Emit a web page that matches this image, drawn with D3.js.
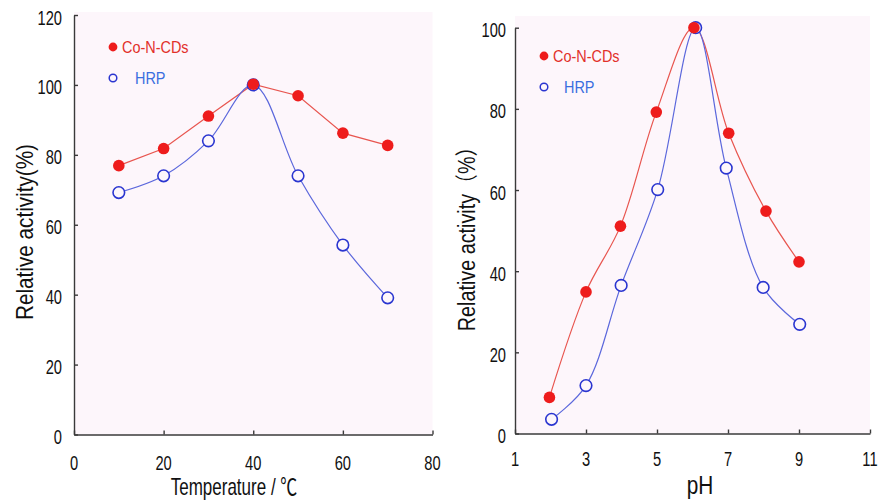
<!DOCTYPE html>
<html>
<head>
<meta charset="utf-8">
<script src="https://cdn.jsdelivr.net/npm/d3@7/dist/d3.min.js"></script>
<style>
  html, body { margin: 0; padding: 0; background: #ffffff; }
  svg { display: block; }
  text { font-family: "Liberation Sans", Arial, "Noto Sans CJK SC", sans-serif; fill: #111; }
</style>
</head>
<body>
<svg id="fig" width="884" height="504"></svg>
<script>
// Temperature panel
const tempC        = [10, 20, 30, 40, 50, 60, 70];
const tempCoNCDs   = [76.9, 81.8, 91.1, 100.2, 96.9, 86.2, 82.7];
const tempHRP      = [69.2, 74.0, 84.0, 100.0, 74.0, 54.2, 39.1];
const tempXTicks   = [0, 20, 40, 60, 80];
const tempYTicks   = [0, 20, 40, 60, 80, 100, 120];

// pH panel
const phCoNCDsX    = [1.97, 3.0, 3.97, 4.98, 6.04, 7.02, 8.07, 9.0];
const phCoNCDs     = [8.9, 34.9, 51.1, 79.2, 100.0, 74.0, 54.8, 42.3];
const phHRPX       = [2.03, 3.0, 3.99, 5.02, 6.09, 6.95, 7.99, 9.02];
const phHRP        = [3.5, 11.8, 36.5, 60.1, 100.0, 65.4, 36.0, 26.9];
const phXTicks     = [1, 3, 5, 7, 9, 11];
const phYTicks     = [0, 20, 40, 60, 80, 100];

const seriesNames  = ["Co-N-CDs", "HRP"];

const RED = "#ee1c1c", RED_LINE = "#e8554f", RED_TEXT = "#e2302a";
const BLUE = "#2a35d0", BLUE_LINE = "#5b67dc", BLUE_TEXT = "#3a6ee0";
const PLOT_BG = "#fdf6fb";
const AXIS = "#3a3a3a";

const svg = d3.select("#fig");

// Text drawn horizontally condensed around its anchor point
function ctext(g, str, x, y, opt) {
  const t = g.append("text")
    .attr("transform", `translate(${x},${y})${opt.rotate ? ` rotate(${opt.rotate})` : ""} scale(${opt.sx || 1},1)`)
    .attr("text-anchor", opt.anchor || "middle")
    .style("font-size", opt.size + "px")
    .text(str);
  if (opt.fill) t.style("fill", opt.fill);
  return t;
}

function panel(cfg) {
  const g = svg.append("g");
  const x = d3.scaleLinear().domain(cfg.xDomain).range([cfg.left, cfg.right]);
  const y = d3.scaleLinear().domain(cfg.yDomain).range([cfg.bottom, cfg.top]);

  // plot area background
  g.append("rect")
    .attr("x", cfg.left).attr("y", cfg.bgTop)
    .attr("width", cfg.right - cfg.left).attr("height", cfg.bottom - cfg.bgTop)
    .attr("fill", PLOT_BG);

  // axes with inward ticks
  const ax = g.append("g").attr("transform", `translate(0,${cfg.bottom})`)
    .call(d3.axisBottom(x).tickValues(cfg.xTicks).tickSizeInner(-4).tickSizeOuter(0).tickFormat(""));
  const ay = g.append("g").attr("transform", `translate(${cfg.left},0)`)
    .call(d3.axisLeft(y).tickValues(cfg.yTicks).tickSizeInner(-4).tickSizeOuter(0).tickFormat(""));
  [ax, ay].forEach(a => {
    a.selectAll("path, line").attr("stroke", AXIS).attr("stroke-width", 1.4);
  });

  // tick labels
  cfg.xTicks.forEach(v => ctext(g, String(v), x(v), cfg.bottom + cfg.xLabelDy, { size: 21, sx: 0.7 }));
  cfg.yTicks.forEach(v => ctext(g, String(v), cfg.left - cfg.yLabelDx, y(v) + 9.5, { size: 21, sx: 0.7, anchor: "end" }));

  // axis titles
  ctext(g, cfg.xTitle, cfg.xTitlePos[0], cfg.xTitlePos[1], { size: cfg.xTitleSize, sx: cfg.xTitleSx });
  ctext(g, cfg.yTitle, cfg.yTitlePos[0], cfg.yTitlePos[1], { size: 23, sx: cfg.yTitleSx, rotate: -90 });

  // connecting lines
  const redPts = cfg.redX.map((d, i) => [x(d), y(cfg.redY[i])]);
  const bluePts = cfg.blueX.map((d, i) => [x(d), y(cfg.blueY[i])]);
  g.append("path").attr("d", d3.line().curve(cfg.redCurve)(redPts))
    .attr("fill", "none").attr("stroke", RED_LINE).attr("stroke-width", 1.2);
  g.append("path").attr("d", d3.line().curve(d3.curveCatmullRom.alpha(0.5))(bluePts))
    .attr("fill", "none").attr("stroke", BLUE_LINE).attr("stroke-width", 1.2);

  // markers
  g.append("g").selectAll("circle").data(bluePts).join("circle")
    .attr("cx", d => d[0]).attr("cy", d => d[1]).attr("r", 5.8)
    .attr("fill", PLOT_BG).attr("stroke", BLUE).attr("stroke-width", 1.6);
  g.append("g").selectAll("circle").data(redPts).join("circle")
    .attr("cx", d => d[0]).attr("cy", d => d[1]).attr("r", 5.8)
    .attr("fill", RED);

  // legend
  const [lx, ly] = cfg.legend;
  g.append("circle").attr("cx", lx).attr("cy", ly).attr("r", 4.4).attr("fill", RED);
  ctext(g, seriesNames[0], lx + 9, ly + 6, { size: 17, sx: 0.85, anchor: "start", fill: RED_TEXT });
  g.append("circle").attr("cx", lx).attr("cy", ly + 31).attr("r", 3.8)
    .attr("fill", "none").attr("stroke", BLUE).attr("stroke-width", 1.5);
  ctext(g, seriesNames[1], lx + cfg.hrpGap, ly + 37, { size: 17, sx: 0.85, anchor: "start", fill: BLUE_TEXT });
}

panel({
  xDomain: [0, 80], yDomain: [0, 120],
  left: 74, right: 432.5, top: 15, bottom: 434.5, bgTop: 12,
  xTicks: tempXTicks, yTicks: tempYTicks,
  xLabelDy: 35, yLabelDx: 12,
  xTitle: "Temperature / ℃", xTitlePos: [234, 495], xTitleSize: 23, xTitleSx: 0.74,
  yTitle: "Relative activity(%)", yTitlePos: [33, 232], yTitleSx: 0.9,
  redX: tempC, redY: tempCoNCDs, redCurve: d3.curveLinear,
  blueX: tempC, blueY: tempHRP,
  legend: [113, 47], hrpGap: 22
});

panel({
  xDomain: [1, 11], yDomain: [0, 100],
  left: 515, right: 870, top: 27.7, bottom: 433.5, bgTop: 16,
  xTicks: phXTicks, yTicks: phYTicks,
  xLabelDy: 32, yLabelDx: 9,
  xTitle: "pH", xTitlePos: [700, 494], xTitleSize: 26, xTitleSx: 0.8,
  yTitle: "Relative activity（%）", yTitlePos: [475, 234], yTitleSx: 0.86,
  redX: phCoNCDsX, redY: phCoNCDs, redCurve: d3.curveCatmullRom.alpha(0.5),
  blueX: phHRPX, blueY: phHRP,
  legend: [544, 56], hrpGap: 20
});
</script>
</body>
</html>
